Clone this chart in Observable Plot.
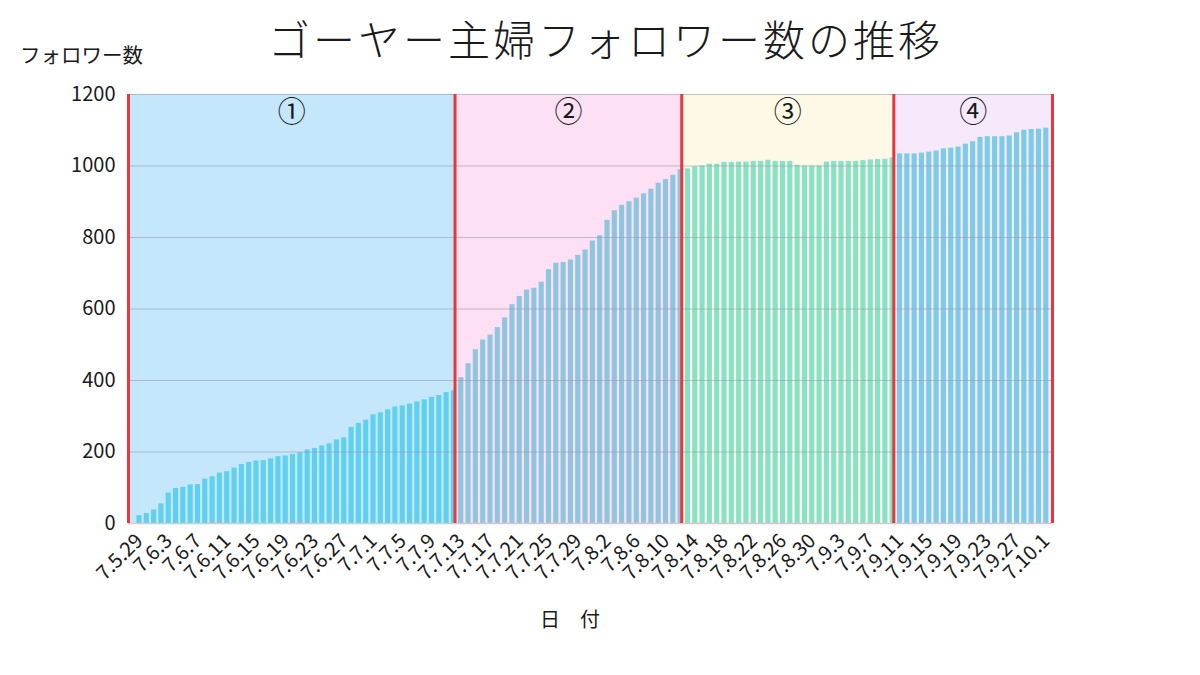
<!DOCTYPE html>
<html>
<head>
<meta charset="utf-8">
<script src="https://cdn.jsdelivr.net/npm/d3@7"></script>
<script src="https://cdn.jsdelivr.net/npm/@observablehq/plot@0.6"></script>
<style>
  body { margin: 0; background: #ffffff; }
  #wrap { position: relative; width: 1200px; height: 675px; overflow: hidden;
          font-family: "Noto Sans CJK JP", "Noto Sans", sans-serif; color: #1a1a1a; }
  #chart { position: absolute; left: 0; top: 0; }
  .title { position: absolute; left: 268px; top: 13px; font-size: 42px; line-height: 50px;
           letter-spacing: 3px; font-weight: 300; white-space: nowrap; }
  .ytitle { position: absolute; left: 20px; top: 41px; font-size: 20.5px; line-height: 26px; white-space: nowrap; }
  .xtitle { position: absolute; left: 540px; top: 606px; font-size: 20px; line-height: 26px; white-space: nowrap; }
</style>
</head>
<body>
<div id="wrap">
  <div id="chart"></div>
  <div class="title">ゴーヤー主婦フォロワー数の推移</div>
  <div class="ytitle">フォロワー数</div>
  <div class="xtitle">日　付</div>
</div>
<script>
// ---- data ----
const phaseLabels = ["①", "②", "③", "④"];
const phase1 = [22, 28, 38, 55, 85, 98, 101, 108, 109, 124, 131, 141, 145, 155, 165, 171, 175, 176, 181, 187, 189, 193, 198, 206, 210, 217, 223, 234, 240, 269, 280, 289, 304, 310, 318, 326, 329, 334, 340, 346, 353, 358, 366, 371];
const phase2 = [408, 447, 486, 513, 527, 548, 575, 612, 635, 653, 658, 675, 710, 728, 730, 737, 750, 765, 790, 805, 848, 875, 890, 900, 910, 922, 935, 952, 962, 974, 990];
const phase3 = [992, 998, 1000, 1005, 1005, 1010, 1010, 1011, 1011, 1013, 1013, 1016, 1013, 1013, 1013, 1002, 1000, 1000, 1000, 1011, 1013, 1013, 1013, 1013, 1015, 1017, 1018, 1019, 1023];
const phase4 = [1034, 1034, 1034, 1036, 1039, 1042, 1048, 1050, 1053, 1061, 1068, 1080, 1082, 1082, 1082, 1084, 1093, 1100, 1102, 1103, 1106];
const phases = [phase1, phase2, phase3, phase4];
const barColors = ["#5fd1ee", "#8ec6df", "#88e2ca", "#7ecbe6"];
const bgColors = ["#c4e7fb", "#fde0f3", "#fef8e6", "#f5e9fb"];
const yTicks = [0, 200, 400, 600, 800, 1000, 1200];
// dates (Reiwa 7): 7.5.29 … 7.10.1, with 7.5.31 absent from the record
const missingDates = ["7.5.31"];
const dates = d3.timeDay.range(new Date(2025, 4, 29), new Date(2025, 9, 2))
  .map(d => `7.${d.getMonth() + 1}.${d.getDate()}`)
  .filter(s => !missingDates.includes(s));
const tickEvery = 4;

// ---- derived tables ----
const rows = [];
const regions = [];
let idx = 0;
phases.forEach((vals, p) => {
  const start = idx;
  vals.forEach(v => { rows.push({i: idx, date: dates[idx], v, color: barColors[p]}); idx++; });
  regions.push({start, end: idx, label: phaseLabels[p], bg: bgColors[p]});
});
const xMin = -1.5, xMax = dates.length - 0.15;
regions.forEach((r, k) => {
  r.x1 = k === 0 ? xMin : r.start - 0.85;
  r.x2 = k === regions.length - 1 ? xMax : regions[k + 1].start - 0.85;
});
const boundaries = [xMin, ...regions.slice(1).map(r => r.x1), xMax];
const tickIdx = dates.map((d, i) => i).filter(i => i % tickEvery === 0);

const chart = Plot.plot({
  width: 1200,
  height: 675,
  marginLeft: 128,
  marginRight: 148,
  marginTop: 94,
  marginBottom: 152,
  style: {fontFamily: "'Noto Sans CJK JP', 'Noto Sans', sans-serif", color: "#1a1a1a", background: "transparent"},
  x: {type: "linear", domain: [xMin, xMax], axis: null},
  y: {domain: [0, 1200], axis: null},
  color: {type: "identity"},
  marks: [
    Plot.rect(regions, {x1: "x1", x2: "x2", y1: 0, y2: 1200, fill: d => d.bg}),
    Plot.rect(rows, {x1: d => d.i - 0.5, x2: d => d.i + 0.5, y1: 0, y2: "v", fill: d => d.color, insetLeft: 1.1, insetRight: 1.1}),
    Plot.ruleY(yTicks.filter(t => t > 0), {stroke: "#8f9ba8", strokeOpacity: 0.55, strokeWidth: 1}),
    Plot.ruleY([0], {stroke: "#d9c4cc", strokeWidth: 1.5}),
    Plot.ruleX(boundaries, {y1: 0, y2: 1200, stroke: "#e8383d", strokeWidth: 3}),
    Plot.axisY({ticks: yTicks, tickSize: 0, tickPadding: 13, fontSize: 20, label: null, tickFormat: d => String(d)}),
    Plot.axisX({ticks: tickIdx, tickFormat: i => dates[i], tickRotate: -45, tickSize: 0, tickPadding: 14, fontSize: 20, label: null}),
    Plot.text(regions, {x: d => (d.x1 + d.x2) / 2, y: 1200, text: "label", dy: 19, fontSize: 28, fill: "#1a1a1a"})
  ]
});
document.getElementById("chart").appendChild(chart);
</script>
</body>
</html>
